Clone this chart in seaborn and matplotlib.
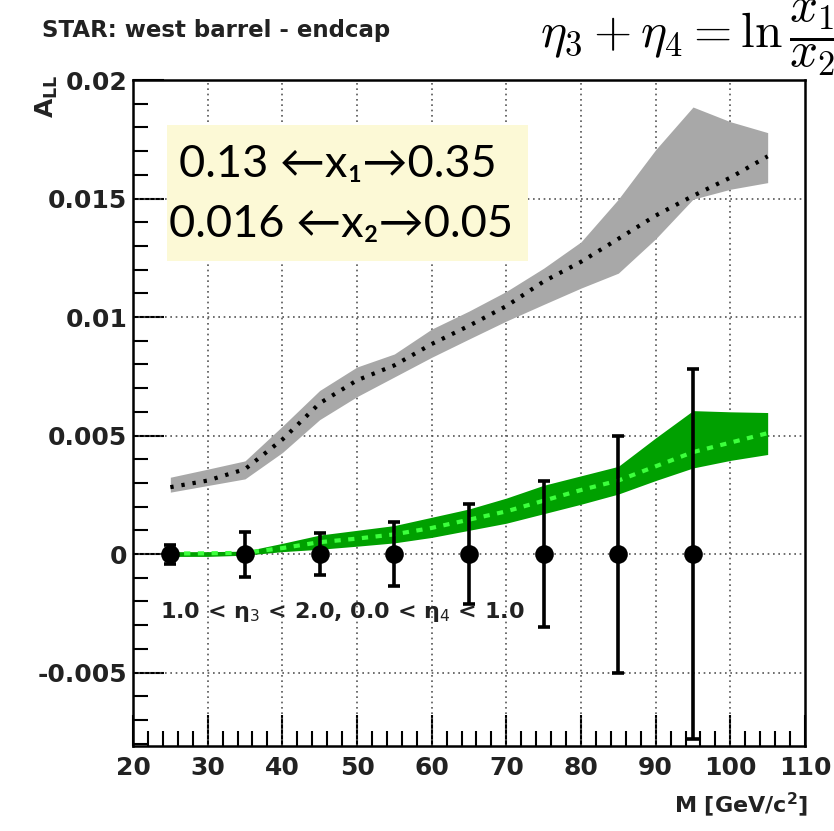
import numpy as np
import pandas as pd
import matplotlib
matplotlib.use("Agg")
import matplotlib.pyplot as plt
from matplotlib.ticker import MultipleLocator, FixedLocator
from matplotlib.patches import Rectangle
import seaborn as sns

# ---------------- data ----------------
mass_pts = [25, 35, 45, 55, 65, 75, 85, 95]
all_vals = [0, 0, 0, 0, 0, 0, 0, 0]
all_err = [0.0004, 0.00095, 0.0009, 0.00135, 0.0021, 0.0031, 0.005, 0.0078]

band_mass = [25, 30, 35, 40, 45, 50, 55, 60, 65, 70, 75, 80, 85, 90, 95, 100, 105]
gray_top = [0.00324, 0.00358, 0.00393, 0.00539, 0.0069, 0.00789, 0.00844, 0.00949, 0.01025,
            0.01108, 0.01206, 0.01317, 0.01497, 0.01706, 0.01886, 0.01824, 0.01778]
gray_bot = [0.00261, 0.00289, 0.00317, 0.00428, 0.00567, 0.00664, 0.00747, 0.0083, 0.00907,
            0.00983, 0.01053, 0.01122, 0.01185, 0.0133, 0.01497, 0.01539, 0.01567]
gray_mid = [0.00282, 0.0031, 0.00358, 0.00483, 0.00636, 0.00733, 0.00796, 0.00886, 0.00963,
            0.01046, 0.0115, 0.01233, 0.0133, 0.01428, 0.01511, 0.01588, 0.01678]
green_top = [0.0001, 0.0001, 0.00012, 0.00045, 0.0008, 0.001, 0.0012, 0.00155, 0.0019,
             0.00236, 0.0029, 0.0033, 0.0037, 0.0049, 0.00605, 0.006, 0.00597]
green_bot = [-0.0001, -0.0001, -0.00005, 0.0001, 0.0002, 0.00033, 0.00047, 0.0007, 0.001,
             0.0013, 0.0017, 0.0021, 0.00253, 0.0031, 0.00363, 0.00395, 0.0042]
green_mid = [0.00002, 0.00003, 0.00005, 0.00025, 0.0005, 0.00065, 0.00083, 0.0011, 0.00145,
             0.0018, 0.00225, 0.0027, 0.0031, 0.0037, 0.0043, 0.0047, 0.0051]

x_ticks = [20, 30, 40, 50, 60, 70, 80, 90, 100, 110]
y_ticks = [-0.005, 0, 0.005, 0.01, 0.015, 0.02]
y_ticklabels = ["-0.005", "0", "0.005", "0.01", "0.015", "0.02"]

title_text = "STAR: west barrel - endcap"
box_line1 = "0.13 \u2190x\u2081\u21920.35"
box_line2 = "0.016 \u2190x\u2082\u21920.05"
eta_label = "1.0 < \u03b7$_3$ < 2.0, 0.0 < \u03b7$_4$ < 1.0"

# ---------------- figure ----------------
sns.set_theme(style="white")
plt.rcParams["font.family"] = ["DejaVu Sans"]
plt.rcParams["mathtext.fontset"] = "dejavusans"

W, H = 834, 831
fig = plt.figure(figsize=(W / 100, H / 100), dpi=100)
fig.patch.set_facecolor("white")
L, R, T, B = 133, 805, 80, 746
ax = fig.add_axes([L / W, 1 - B / H, (R - L) / W, (B - T) / H])
ax.set_facecolor("white")

bands = pd.DataFrame({"M": band_mass, "gtop": gray_top, "gbot": gray_bot, "gmid": gray_mid,
                      "ntop": green_top, "nbot": green_bot, "nmid": green_mid})
pts = pd.DataFrame({"M": mass_pts, "A": all_vals, "err": all_err})

ax.set_xlim(20, 110)
ax.set_ylim(-0.0081, 0.02)

# grid
for xv in x_ticks[1:-1]:
    ax.axvline(xv, color="#555555", lw=1.2, ls=(0, (1, 2.2)), zorder=1)
for yv in y_ticks[:-1]:
    ax.axhline(yv, color="#555555", lw=1.2, ls=(0, (1, 2.2)), zorder=1)

# bands
ax.fill_between(bands["M"], bands["gbot"], bands["gtop"], color="#a8a8a8", lw=0, zorder=2)
ax.fill_between(bands["M"], bands["nbot"], bands["ntop"], color="#00a000", lw=0, zorder=2)
sns.lineplot(data=bands, x="M", y="gmid", ax=ax, color="black", lw=3.0,
             linestyle=(0, (0.8, 1.9)), zorder=3)
sns.lineplot(data=bands, x="M", y="nmid", ax=ax, color="#3cff3c", lw=3.0,
             linestyle=(0, (1.5, 1.8)), zorder=3)

# data points
ax.errorbar(pts["M"], pts["A"], yerr=pts["err"], fmt="none", ecolor="black",
            elinewidth=2.6, capsize=4, capthick=2.6, zorder=4)
sns.scatterplot(data=pts, x="M", y="A", ax=ax, color="black", s=180, edgecolor="black",
                linewidth=0, zorder=5)

# axes styling
for s in ax.spines.values():
    s.set_color("black")
    s.set_linewidth(1.8)
    s.set_visible(True)
ax.xaxis.set_major_locator(FixedLocator(x_ticks))
ax.yaxis.set_major_locator(FixedLocator(y_ticks))
ax.xaxis.set_minor_locator(MultipleLocator(2))
ax.yaxis.set_minor_locator(MultipleLocator(0.001))
ax.set_xticklabels([str(v) for v in x_ticks])
ax.set_yticklabels(y_ticklabels)
ax.tick_params(which="both", direction="in", top=False, right=False, left=True, bottom=True,
               colors="black", width=1.5)
ax.tick_params(which="major", length=22, labelsize=18)
ax.tick_params(which="minor", length=11)
ax.tick_params(axis="y", which="major", pad=4)
ax.tick_params(axis="x", which="major", pad=7)
for lab in ax.get_xticklabels() + ax.get_yticklabels():
    lab.set_fontweight("bold")
    lab.set_color("#222222")
ax.set_xlabel("")
ax.set_ylabel("")

# labels
fig.text(808 / W, 1 - 805 / H, "M [GeV/c$^{\\mathbf{2}}$]", ha="right", va="center",
         fontsize=16, fontweight="bold", color="#222222")
fig.text(47 / W, 1 - 96 / H, r"$\mathbf{A}_{\mathbf{LL}}$", ha="center", va="center",
         rotation=90, fontsize=18, color="#222222")
fig.text(42 / W, 1 - 31 / H, title_text, ha="left", va="center", fontsize=16.5,
         fontweight="bold", color="#222222")
fig.text(540 / W, 1 - 49 / H, r"$\eta_3+\eta_4=\ln\dfrac{x_1}{x_2}$", ha="left",
         va="baseline", fontsize=35.5, math_fontfamily="cm", color="black")
ax.text(23.6, -0.00245, eta_label, ha="left", va="center", fontsize=16,
        fontweight="bold", color="#222222", zorder=6)

# yellow box
fig.patches.append(Rectangle((167 / W, 1 - 261 / H), (528 - 167) / W, (261 - 125) / H,
                             transform=fig.transFigure, facecolor="#fcf9d6",
                             edgecolor="none", zorder=10))
fig.text(338 / W, 1 - 165 / H, box_line1, ha="center", va="center", fontsize=32.5,
         family=["Lato", "DejaVu Sans"], color="black", zorder=11)
fig.text(341 / W, 1 - 224 / H, box_line2, ha="center", va="center", fontsize=32.5,
         family=["Lato", "DejaVu Sans"], color="black", zorder=11)

fig.savefig("out.png", dpi=100, facecolor="white")
